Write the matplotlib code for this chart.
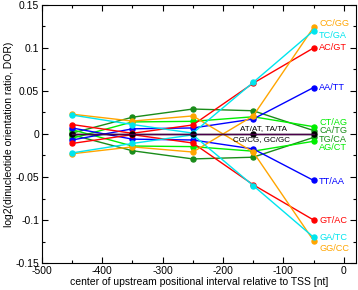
import matplotlib
matplotlib.use("Agg")
import matplotlib.pyplot as plt
from matplotlib.ticker import MultipleLocator, FuncFormatter

plt.rcParams['font.family'] = ['Liberation Sans', 'DejaVu Sans']
plt.rcParams['axes.unicode_minus'] = False

# centre of upstream interval (nt)
positions = [-450, -350, -250, -150, -50]

# log2 DOR values
cc_gg = [-0.023, -0.015, -0.021, 0.021, 0.124]
gg_cc = [0.023, 0.015, 0.021, -0.021, -0.124]
tc_ga = [0.022, 0.011, 0.001, 0.060, 0.120]
ga_tc = [-0.022, -0.011, -0.001, -0.060, -0.120]
ac_gt = [0.011, 0.0008, 0.0105, 0.059, 0.100]
gt_ac = [-0.011, -0.0008, -0.0105, -0.059, -0.100]
aa_tt = [-0.007, 0.006, 0.007, 0.0174, 0.054]
tt_aa = [0.007, -0.006, -0.007, -0.0174, -0.054]
ct_ag = [-0.005, 0.014, 0.0147, 0.020, 0.0085]
ag_ct = [0.005, -0.014, -0.0147, -0.020, -0.0085]
ca_tg = [0.001, 0.0195, 0.029, 0.027, 0.004]
tg_ca = [-0.001, -0.0195, -0.029, -0.027, -0.004]
at_ta = [0, 0, 0, 0, 0]
cg_gc = [0, 0, 0, 0, 0]

orange = '#ffa500'
cyan = '#00e5ee'
red = '#ff0000'
blue = '#0000ff'
lime = '#00ee00'
dgreen = '#1a8c1a'

series = [
    (ca_tg, dgreen), (tg_ca, dgreen),
    (ct_ag, lime), (ag_ct, lime),
    (aa_tt, blue), (tt_aa, blue),
    (ac_gt, red), (gt_ac, red),
    (cc_gg, orange), (gg_cc, orange),
    (tc_ga, cyan), (ga_tc, cyan),
]

# right hand labels: text, y position, colour
end_labels = [
    ("CC/GG", 0.128, orange),
    ("TC/GA", 0.115, cyan),
    ("AC/GT", 0.100, red),
    ("AA/TT", 0.054, blue),
    ("CT/AG", 0.0128, lime),
    ("CA/TG", 0.0036, dgreen),
    ("TG/CA", -0.0066, dgreen),
    ("AG/CT", -0.0160, lime),
    ("TT/AA", -0.0555, blue),
    ("GT/AC", -0.101, red),
    ("GA/TC", -0.1205, cyan),
    ("GG/CC", -0.133, orange),
]

fig = plt.figure(figsize=(3.58, 2.90), dpi=100)
ax = fig.add_axes([0.117, 0.093, 0.877, 0.890])

for vals, col in series:
    ax.plot(positions, vals, color=col, lw=1.0, marker='o', ms=3.6,
            mec=col, mfc=col, zorder=3)

ax.plot(positions, at_ta, color='black', lw=1.0, marker='o', ms=3.6, zorder=3)
ax.plot(positions, cg_gc, color='#4b004b', lw=1.0, zorder=3.5)

for txt, yv, col in end_labels:
    ax.text(-41, yv, txt, color=col, fontsize=6.6, va='center', ha='left')

ax.text(-133, 0.0066, "AT/AT, TA/TA", fontsize=5.8, ha='center', va='center')
ax.text(-136, -0.007, "CG/CG, GC/GC", fontsize=5.8, ha='center', va='center')

ax.set_xlim(-500, 20)
ax.set_ylim(-0.15, 0.15)
ax.xaxis.set_major_locator(MultipleLocator(100))
ax.xaxis.set_minor_locator(MultipleLocator(50))
ax.yaxis.set_major_locator(MultipleLocator(0.05))
ax.yaxis.set_minor_locator(MultipleLocator(0.025))
ax.yaxis.set_major_formatter(FuncFormatter(lambda v, p: "%g" % round(v, 3)))
ax.tick_params(which='both', direction='in', top=True, right=True,
               labelsize=7.5, width=0.8, pad=2)
ax.tick_params(which='major', length=4)
ax.tick_params(which='minor', length=2)
for sp in ax.spines.values():
    sp.set_linewidth(0.8)

ax.set_xlabel("center of upstream positional interval relative to TSS [nt]",
              fontsize=7.5, labelpad=1)
ax.set_ylabel("log2(dinucleotide orientation ratio, DOR)", fontsize=7.5,
              labelpad=1)

fig.savefig("out.png", dpi=100)
